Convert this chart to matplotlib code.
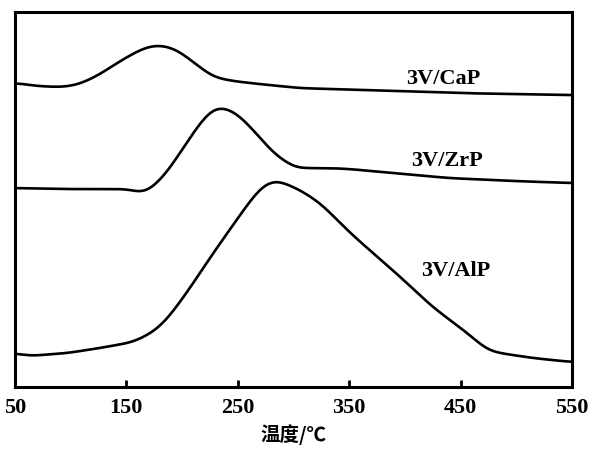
import matplotlib
matplotlib.use("Agg")
import matplotlib.pyplot as plt
import numpy as np

# Temperature (°C) and signal (arbitrary units, offset curves)
cap_T = [52, 70, 93, 108, 125, 141.6, 152, 162, 171, 180, 192, 201, 210, 228, 246, 270, 306, 366, 450, 550]
cap_y = [304, 301, 300, 303, 312, 324, 331, 337, 341, 342, 339, 333, 325, 310, 306, 303, 299, 297, 294, 292]

zrp_T = [52, 97, 153, 162, 171, 186, 204, 216, 228, 236, 249, 264, 282, 300, 306, 333, 351, 380, 440, 500, 550]
zrp_y = [199, 198, 198, 194, 197, 214, 244, 264, 279, 280, 274, 257, 234, 220, 219, 219, 218, 215, 209, 206, 204]

alp_T = [52, 61, 97, 126, 156, 174, 186, 204, 228, 252, 267, 276, 285, 300, 306, 324, 353, 396, 425, 456, 474, 485, 515, 550]
alp_y = [34, 31, 34, 39, 45, 55, 67, 94, 134, 172, 195, 204, 207, 200, 197, 184, 152, 110, 80, 54, 37, 34, 29, 25]

labels = ["3V/CaP", "3V/ZrP", "3V/AlP"]
xticks = [50, 150, 250, 350, 450, 550]

def smooth(T, y, n=500):
    Tn = np.linspace(T[0], T[-1], n)
    yn = np.interp(Tn, T, y)
    k = 15
    ker = np.ones(k) / k
    for _ in range(2):
        ypad = np.concatenate([np.full(k // 2, yn[0]), yn, np.full(k // 2, yn[-1])])
        yn = np.convolve(ypad, ker, mode="valid")
    return Tn, yn

fig = plt.figure(figsize=(5.98, 4.49), dpi=100)
ax = fig.add_axes([0.025, 0.138, 0.9315, 0.835])

for T, y in [(cap_T, cap_y), (zrp_T, zrp_y), (alp_T, alp_y)]:
    Tn, yn = smooth(T, y)
    ax.plot(Tn, yn, color="black", lw=1.9, solid_capstyle="round")

ax.set_xlim(50, 550)
ax.set_ylim(0, 375)

tfont = dict(family="Liberation Serif", weight="bold", size=16)
ax.text(434, 308, labels[0], ha="center", va="center", **tfont)
ax.text(438, 226, labels[1], ha="center", va="center", **tfont)
ax.text(446, 116, labels[2], ha="center", va="center", **tfont)

ax.set_xticks(xticks)
ax.set_xticklabels([str(v) for v in xticks], fontfamily="Liberation Serif",
                   fontweight="bold", fontsize=16)
ax.tick_params(axis="x", direction="in", length=5, width=2, pad=8)
ax.set_yticks([])
for s in ax.spines.values():
    s.set_linewidth(2.2)

ax.set_xlabel("温度/℃", fontfamily=["Noto Sans CJK SC", "DejaVu Sans"],
              fontweight="bold", fontsize=14, labelpad=4)

fig.savefig("out.png", dpi=100)
